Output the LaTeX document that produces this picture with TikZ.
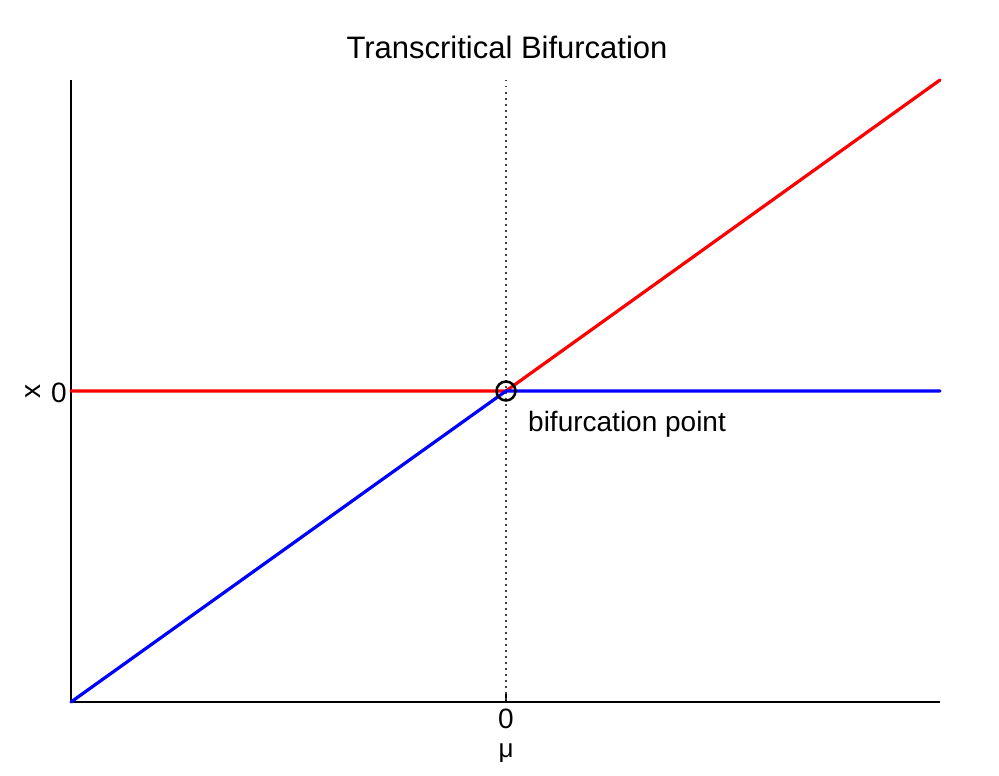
\documentclass[tikz,border=0pt]{standalone}
\usepackage{fontspec}
\setmainfont{Liberation Sans}
\begin{document}
\begin{tikzpicture}[x=1pt,y=-1pt,
  axis/.style={line width=1.5pt,black},
  branch/.style={line width=3.2pt,line cap=round},
  lbl/.style={inner sep=0pt,font=\fontsize{28}{30}\selectfont}]
\useasboundingbox (0,0) rectangle (999,776);
\coordinate (ll) at (71,702);
\coordinate (ul) at (71,80);
\coordinate (lr) at (940,702);
\coordinate (ml) at (71,391);
\coordinate (mr) at (940,391);
\coordinate (ur) at (940,80);
\coordinate (c) at (506,391);
\coordinate (ct) at (506,80);
\coordinate (cb) at (506,702);
\coordinate (tk) at (506,694);
% axes
\draw[axis] (ul) -- (ll) -- (lr);
\draw[line width=1.5pt] (cb) -- (tk);
\draw[line width=1.2pt,dash pattern=on 1.5pt off 4.5pt,black!75] (ct) -- (cb);
% branches
\draw[branch,red] (ml) -- (c) -- (ur);
\draw[branch,blue] (ll) -- (c) -- (mr);
\node[circle,draw,line width=2.5pt,minimum size=19pt,inner sep=0pt] (bp) at (c) {};
% labels
\node[inner sep=0pt,font=\fontsize{31}{34}\selectfont] (title) at (507,47) {Transcritical Bifurcation};
\node[lbl,anchor=west] (bplabel) at (528,424) {bifurcation point};
\node[lbl] (x0) at (59,393) {0};
\node[lbl,rotate=90] (xl) at (33,391) {x};
\node[lbl,anchor=base] (mu0) at (506,728) {0};
\node[inner sep=0pt,anchor=base,font=\fontsize{26}{28}\selectfont] (mu) at (506,757) {μ};
\end{tikzpicture}
\end{document}
